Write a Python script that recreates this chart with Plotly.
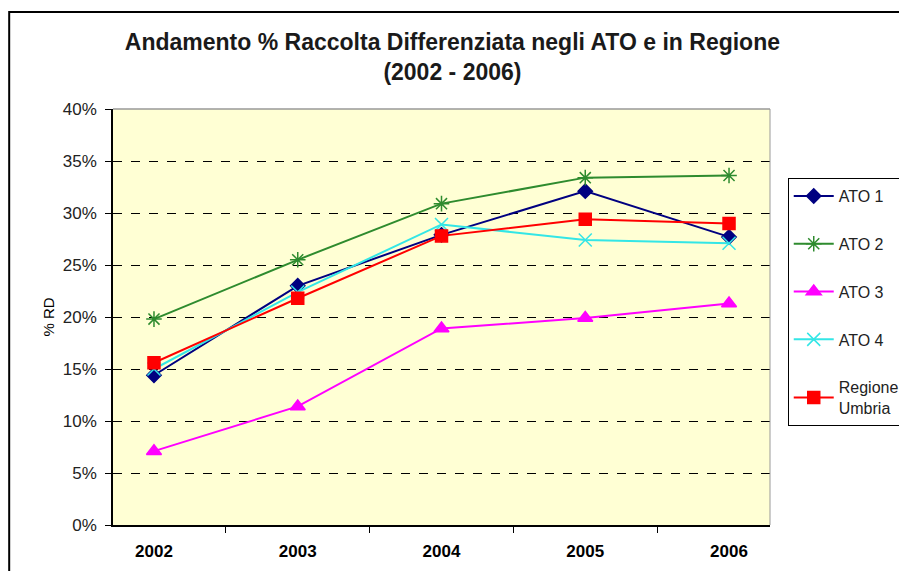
import plotly.graph_objects as go

years = ["2002", "2003", "2004", "2005", "2006"]
ato1 = [14.4, 23.0, 27.9, 32.1, 27.7]
ato2 = [19.8, 25.5, 30.9, 33.4, 33.6]
ato3 = [7.1, 11.4, 18.9, 19.9, 21.3]
ato4 = [15.0, 22.4, 28.9, 27.4, 27.1]
regione = [15.6, 21.8, 27.8, 29.4, 29.0]

series = [
    ("ATO 1", ato1, "#000080", "diamond", 11),
    ("ATO 2", ato2, "#2E8B2E", "asterisk-open", 13),
    ("ATO 3", ato3, "#FF00FF", "triangle-up", 13),
    ("ATO 4", ato4, "#33E6E6", "x-thin-open", 13),
    ("Regione<br>Umbria", regione, "#FF0000", "square", 12),
]

fig = go.Figure()
for i, (name, vals, col, sym, sz) in enumerate(series):
    fig.add_trace(go.Scatter(
        x=years, y=[v / 100 for v in vals], name=name, mode="lines+markers",
        line=dict(color=col, width=2),
        marker=dict(symbol=sym, size=sz, color=col, line=dict(color=col, width=1.5)),
        legendgroup=str(i),
    ))

# page body adds an 8px offset, margins compensate for it
fig.update_layout(
    width=907, height=571,
    margin=dict(l=105, r=145, t=101, b=54, autoexpand=False),
    paper_bgcolor="white", plot_bgcolor="#FFFFD4",
    font=dict(family="Liberation Sans, Arial, sans-serif", color="black", size=17),
    title=dict(text="<b>Andamento % Raccolta Differenziata negli ATO e in Regione<br>(2002 - 2006)</b>",
               x=0.49, xanchor="center", y=0.926, yanchor="top",
               font=dict(size=23, color="#1a1a1a")),
    showlegend=True,
    legend=dict(x=1.027, y=0.834, xanchor="left", yanchor="top",
                bordercolor="black", borderwidth=1, bgcolor="white", itemwidth=40,
                tracegroupgap=24, font=dict(size=16, color="#222222")),
    xaxis=dict(type="category", showgrid=False, showline=True, linecolor="black", linewidth=1.5,
               ticks="outside", tickson="boundaries", ticklen=6, tickcolor="black",
               ticklabelstandoff=10,
               tickfont=dict(size=17, family="Liberation Sans, Arial, sans-serif"),
               ticktext=["<b>%s</b>" % y for y in years], tickvals=years),
    yaxis=dict(range=[0, 0.4], dtick=0.05, tickformat=".0%", showgrid=True,
               gridcolor="black", griddash="dash", gridwidth=1,
               showline=True, linecolor="black", linewidth=1.5,
               ticks="outside", ticklen=6, tickcolor="black", zeroline=False,
               ticklabelstandoff=5,
               tickfont=dict(size=17, color="#222222"),
               title=dict(text="% RD", font=dict(size=15), standoff=5)),
)

# grey border at top/right of plot area
fig.add_shape(type="line", xref="paper", yref="paper", x0=0, x1=1, y0=1, y1=1,
              line=dict(color="#999999", width=1.5))
fig.add_shape(type="line", xref="paper", yref="paper", x0=1, x1=1, y0=0, y1=1,
              line=dict(color="#999999", width=1))
# outer chart frame
fig.add_shape(type="rect", xref="paper", yref="paper", x0=-0.158, x1=1.3, y0=-0.2, y1=1.233,
              line=dict(color="black", width=2))

fig.write_html("out.html")
